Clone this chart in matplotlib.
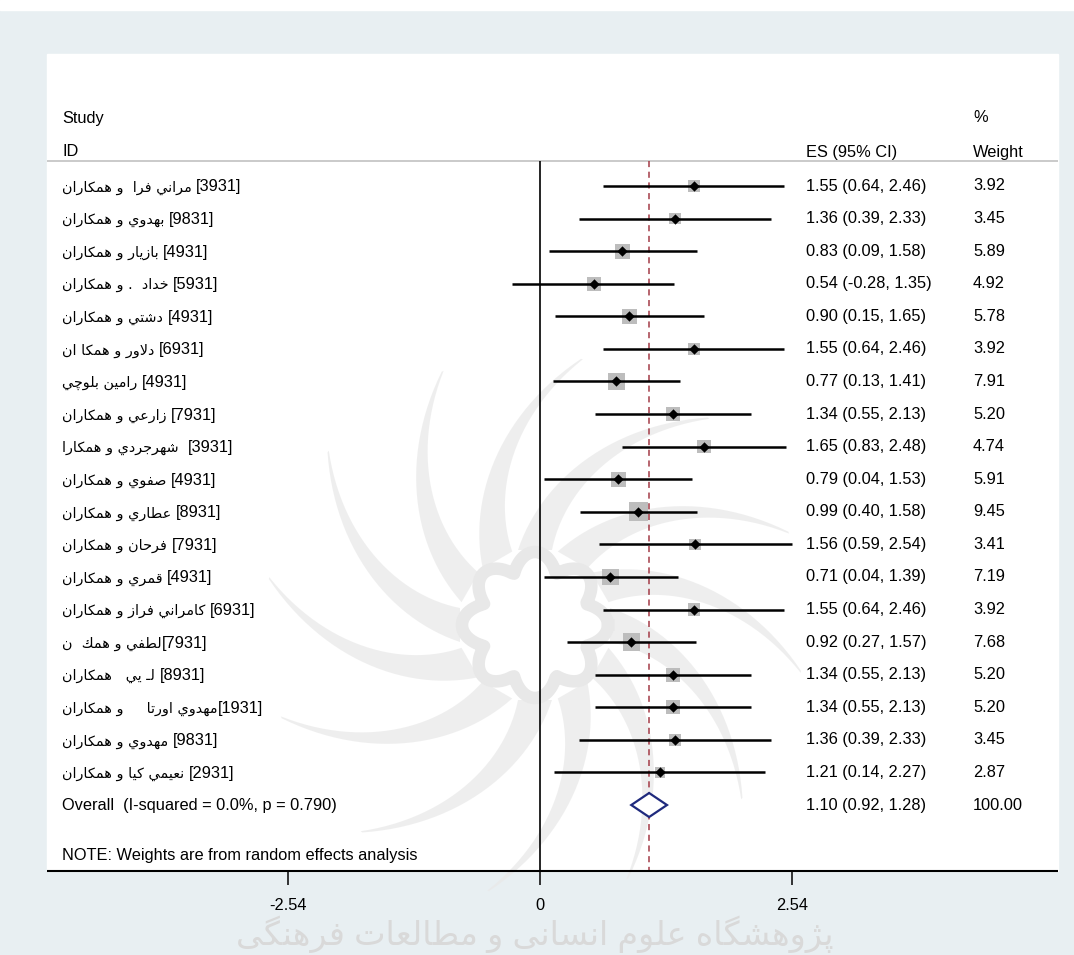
import re
import numpy as np
import matplotlib
matplotlib.use("Agg")
import matplotlib.pyplot as plt
from matplotlib.patches import Rectangle, Polygon

plt.rcParams['font.family'] = ['Liberation Sans', 'DejaVu Sans']

# study rows
labels = [
    "مراني فرا  و همكاران [3931]",
    "بهدوي و همكاران [9831]",
    "بازيار و همكاران [4931]",
    "خداد  . و همكاران [5931]",
    "دشتي و همكاران [4931]",
    "دلاور و همكا ان [6931]",
    "رامين بلوچي [4931]",
    "زارعي و همكاران [7931]",
    "شهرجردي و همكارا  [3931]",
    "صفوي و همكاران [4931]",
    "عطاري و همكاران [8931]",
    "فرحان و همكاران [7931]",
    "قمري و همكاران [4931]",
    "كامراني فراز و همكاران [6931]",
    "لطفي و همك  ن[7931]",
    "لـ يي   همكاران [8931]",
    "مهدوي اورتا     و همكاران[1931]",
    "مهدوي و همكاران [9831]",
    "نعيمي كيا و همكاران [2931]",
]
es = [1.55, 1.36, 0.83, 0.54, 0.90, 1.55, 0.77, 1.34, 1.65, 0.79,
      0.99, 1.56, 0.71, 1.55, 0.92, 1.34, 1.34, 1.36, 1.21]
ci_lo = [0.64, 0.39, 0.09, -0.28, 0.15, 0.64, 0.13, 0.55, 0.83, 0.04,
         0.40, 0.59, 0.04, 0.64, 0.27, 0.55, 0.55, 0.39, 0.14]
ci_hi = [2.46, 2.33, 1.58, 1.35, 1.65, 2.46, 1.41, 2.13, 2.48, 1.53,
         1.58, 2.54, 1.39, 2.46, 1.57, 2.13, 2.13, 2.33, 2.27]
weights = [3.92, 3.45, 5.89, 4.92, 5.78, 3.92, 7.91, 5.20, 4.74, 5.91,
           9.45, 3.41, 7.19, 3.92, 7.68, 5.20, 5.20, 3.45, 2.87]

overall_label = "Overall  (I-squared = 0.0%, p = 0.790)"
overall_es, overall_lo, overall_hi, overall_w = 1.10, 0.92, 1.28, 100.00
x_ticks = [-2.54, 0, 2.54]
note = "NOTE: Weights are from random effects analysis"
watermark = "پژوهشگاه علوم انسانی و مطالعات فرهنگی"

# --- simple arabic shaping (presentation forms), matplotlib has no bidi ---
FORMS = {
    'ا': ('\ufe8d', '\ufe8e', None, None),
    'ب': ('\ufe8f', '\ufe90', '\ufe91', '\ufe92'),
    'پ': ('\ufb56', '\ufb57', '\ufb58', '\ufb59'),
    'ت': ('\ufe95', '\ufe96', '\ufe97', '\ufe98'),
    'ج': ('\ufe9d', '\ufe9e', '\ufe9f', '\ufea0'),
    'چ': ('\ufb7a', '\ufb7b', '\ufb7c', '\ufb7d'),
    'ح': ('\ufea1', '\ufea2', '\ufea3', '\ufea4'),
    'خ': ('\ufea5', '\ufea6', '\ufea7', '\ufea8'),
    'د': ('\ufea9', '\ufeaa', None, None),
    'ر': ('\ufead', '\ufeae', None, None),
    'ز': ('\ufeaf', '\ufeb0', None, None),
    'ژ': ('\ufb8a', '\ufb8b', None, None),
    'س': ('\ufeb1', '\ufeb2', '\ufeb3', '\ufeb4'),
    'ش': ('\ufeb5', '\ufeb6', '\ufeb7', '\ufeb8'),
    'ص': ('\ufeb9', '\ufeba', '\ufebb', '\ufebc'),
    'ط': ('\ufec1', '\ufec2', '\ufec3', '\ufec4'),
    'ع': ('\ufec9', '\ufeca', '\ufecb', '\ufecc'),
    'ف': ('\ufed1', '\ufed2', '\ufed3', '\ufed4'),
    'ق': ('\ufed5', '\ufed6', '\ufed7', '\ufed8'),
    'ك': ('\ufed9', '\ufeda', '\ufedb', '\ufedc'),
    'گ': ('\ufb92', '\ufb93', '\ufb94', '\ufb95'),
    'ل': ('\ufedd', '\ufede', '\ufedf', '\ufee0'),
    'م': ('\ufee1', '\ufee2', '\ufee3', '\ufee4'),
    'ن': ('\ufee5', '\ufee6', '\ufee7', '\ufee8'),
    'ه': ('\ufee9', '\ufeea', '\ufeeb', '\ufeec'),
    'و': ('\ufeed', '\ufeee', None, None),
    'ي': ('\ufef1', '\ufef2', '\ufef3', '\ufef4'),
    'ی': ('\ufbfc', '\ufbfd', '\ufbfe', '\ufbff'),
    'ـ': ('ـ', 'ـ', 'ـ', 'ـ'),
}


def shape(word):
    out = []
    i = 0
    n = len(word)
    while i < n:
        ch = word[i]
        prev = word[i - 1] if i > 0 else None
        joins_prev = prev in FORMS and FORMS[prev][2] is not None
        if ch == 'ل' and i + 1 < n and word[i + 1] == 'ا':
            out.append('\ufefc' if joins_prev else '\ufefb')
            i += 2
            continue
        iso, fin, ini, med = FORMS[ch]
        nxt = word[i + 1] if i + 1 < n else None
        joins_next = ini is not None and nxt in FORMS
        if joins_prev and joins_next:
            out.append(med)
        elif joins_prev:
            out.append(fin)
        elif joins_next:
            out.append(ini)
        else:
            out.append(iso)
        i += 1
    return ''.join(out)


ARABIC_RUN = re.compile('[' + ''.join(FORMS) + ']+')


def rtl(text):
    # shape each word, then lay the whole run out right to left
    return ARABIC_RUN.sub(lambda m: shape(m.group()), text)[::-1]


# --- layout (pixels) ---
W, H = 1074, 955
X0, SCALE = 540, 99.2          # pixel of x=0, pixels per unit
ROW0, ROW_STEP = 186, 32.58
PANEL_L, PANEL_R, PANEL_T, AXIS_Y = 47, 1058, 54, 871
HEAD_LINE = 161
COL_LABEL, COL_ES, COL_W = 62, 806, 973
FS = 11.8
FS_AR = 10.4


def hx(px):
    return (px - X0) / SCALE


fig = plt.figure(figsize=(W / 100, H / 100), dpi=100)
fig.patch.set_facecolor('#e8eff2')
ax = fig.add_axes([0, 0, 1, 1])
ax.set_xlim(hx(0), hx(W))
ax.set_ylim(H, 0)
ax.axis('off')
renderer = fig.canvas.get_renderer()

ax.add_patch(Rectangle((hx(0), 0), hx(W) - hx(0), 10, color='white', zorder=0))
ax.add_patch(Rectangle((hx(PANEL_L), PANEL_T), hx(PANEL_R) - hx(PANEL_L),
                       AXIS_Y - PANEL_T, color='white', zorder=0))

# faint rosette emblem behind the plot
cx, cy = 535, 625
for k in range(12):
    a0 = np.deg2rad(k * 30)
    t = np.linspace(0, 1, 30)
    r = 75 + 195 * t
    ang = a0 + np.deg2rad(40) * t
    half = 16 * (1 - t) + 1
    px_c, py_c = cx + r * np.cos(ang), cy + r * np.sin(ang)
    nx, ny = -np.sin(ang), np.cos(ang)
    left = np.column_stack([px_c + half * nx, py_c + half * ny])
    right = np.column_stack([px_c - half * nx, py_c - half * ny])[::-1]
    pts = np.vstack([left, right])
    pts[:, 0] = hx(pts[:, 0])
    ax.add_patch(Polygon(pts, closed=True, facecolor='#e8e8e8', edgecolor='none',
                         alpha=0.7, zorder=0.5))
th = np.linspace(0, 2 * np.pi, 200)
rr = 55 + 18 * np.abs(np.cos(4 * th))
ax.plot(hx(cx + rr * np.cos(th)), cy + rr * np.sin(th), color='#e8e8e8', lw=9,
        zorder=0.5)

ax.text((hx(230) + hx(840)) / 2, 934, rtl(watermark), fontsize=24,
        color='#d9d9d9', ha='center', va='center', zorder=0.5)

# headers
ax.text(hx(COL_LABEL), 118, "Study", fontsize=FS, va='center')
ax.text(hx(COL_LABEL), 152, "ID", fontsize=FS, va='center')
ax.text(hx(COL_ES), 152, "ES (95% CI)", fontsize=FS, va='center')
ax.text(hx(COL_W), 118, "%", fontsize=FS, va='center')
ax.text(hx(COL_W), 152, "Weight", fontsize=FS, va='center')
ax.hlines(HEAD_LINE, hx(PANEL_L), hx(PANEL_R), color='#c6c6c6', lw=1.3, zorder=1)

ys = ROW0 + ROW_STEP * np.arange(len(labels))
y_all = ROW0 + ROW_STEP * len(labels)

# reference lines
ax.vlines(0, HEAD_LINE, AXIS_Y, color='black', lw=1.2, zorder=2)
ax.vlines(overall_es, HEAD_LINE, AXIS_Y, color='#a33a46', lw=1.1,
          linestyles=(0, (4, 3)), zorder=2)

# study estimates
side_pt = 6.3 * np.sqrt(weights) * 0.72
ax.scatter(es, ys, marker='s', s=side_pt ** 2, c='#bdbdbd', linewidths=0, zorder=3)
ax.hlines(ys, ci_lo, ci_hi, color='black', lw=1.8, zorder=4)
ax.scatter(es, ys, marker='D', s=28, c='black', linewidths=0, zorder=5)

for y, lab, e, lo, hi, w in zip(ys, labels, es, ci_lo, ci_hi, weights):
    cut = lab.index('[')
    name = lab[:cut].rstrip()
    gap = (cut - len(name)) * 4.6
    base = y + 5.5
    t_name = ax.text(hx(COL_LABEL), base, rtl(name), fontsize=FS_AR,
                     family='DejaVu Sans', va='baseline')
    x_end = t_name.get_window_extent(renderer).x1 + gap
    x_ref = ax.transData.inverted().transform((x_end, 0))[0]
    ax.text(x_ref, base, lab[cut:], fontsize=FS, va='baseline')
    ax.text(hx(COL_ES), y, f"{e:.2f} ({lo:.2f}, {hi:.2f})", fontsize=FS, va='center')
    ax.text(hx(COL_W), y, f"{w:.2f}", fontsize=FS, va='center')

# pooled estimate
ax.add_patch(Polygon([(overall_lo, y_all), (overall_es, y_all - 12),
                      (overall_hi, y_all), (overall_es, y_all + 12)],
                     closed=True, facecolor='white', edgecolor='#1f2a7d',
                     lw=1.6, zorder=5))
ax.text(hx(COL_LABEL), y_all, overall_label, fontsize=FS, va='center')
ax.text(hx(COL_ES), y_all, f"{overall_es:.2f} ({overall_lo:.2f}, {overall_hi:.2f})",
        fontsize=FS, va='center')
ax.text(hx(COL_W), y_all, f"{overall_w:.2f}", fontsize=FS, va='center')

ax.text(hx(COL_LABEL), 855, note, fontsize=FS, va='center')

# x axis
ax.hlines(AXIS_Y, hx(PANEL_L), hx(PANEL_R), color='black', lw=1.5, zorder=2)
ax.vlines(x_ticks, AXIS_Y, AXIS_Y + 14, color='black', lw=1.1)
for t in x_ticks:
    ax.text(t, 905, f"{t:g}", fontsize=FS, ha='center', va='center')

fig.savefig('out.png', dpi=100, facecolor=fig.get_facecolor())
